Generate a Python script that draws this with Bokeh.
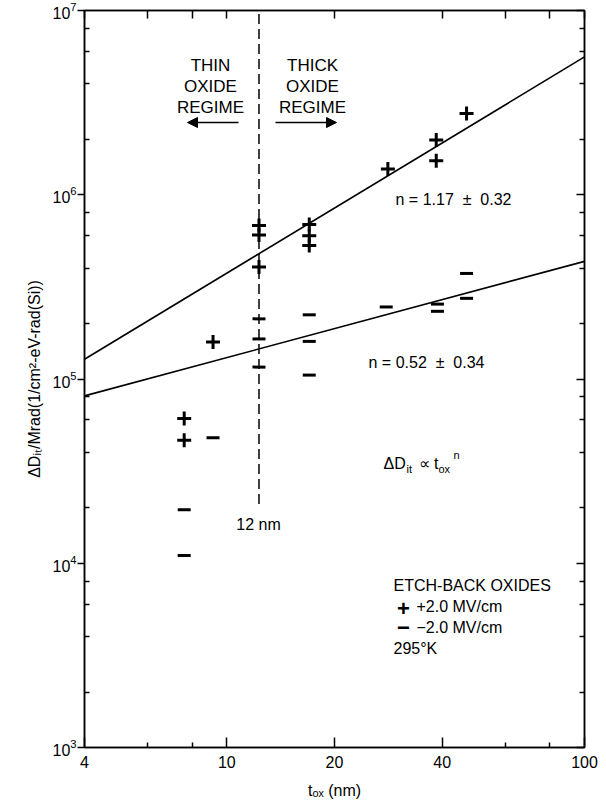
import numpy as np
from bokeh.plotting import figure
from bokeh.models import (FixedTicker, LogAxis, Label, Arrow, NormalHead,
                          PrintfTickFormatter, LogTickFormatter)
from bokeh.embed import file_html
from bokeh.resources import INLINE

# ---------------- data ----------------
plus_x = [7.6, 7.6, 9.15, 12.3, 12.3, 12.3, 17.0, 17.0, 17.0, 28.2, 38.5, 38.5, 46.8]
plus_y = [6.1e4, 4.65e4, 1.59e5, 6.8e5, 6.05e5, 4.05e5, 6.9e5, 6.0e5, 5.3e5,
          1.38e6, 1.98e6, 1.53e6, 2.76e6]
minus_x = [7.6, 7.6, 9.15, 12.3, 12.3, 12.3, 17.0, 17.0, 17.0, 27.9, 38.8, 38.8, 46.8, 46.8]
minus_y = [1.95e4, 1.1e4, 4.8e4, 2.12e5, 1.65e5, 1.16e5, 2.23e5, 1.6e5, 1.05e5,
           2.46e5, 2.55e5, 2.33e5, 3.74e5, 2.74e5]
fit_x = [4.0, 100.0]
fit_hi_y = [1.28e5, 5.6e6]     # n = 1.17
fit_lo_y = [8.1e4, 4.35e5]     # n = 0.52
boundary_x = [12.3, 12.3]
boundary_y = [2.1e4, 1.0e7]

x_major = [4, 10, 20, 40, 100]
x_minor = [6, 8, 60, 80]
y_major = [1e3, 1e4, 1e5, 1e6, 1e7]
y_minor = [m * 10.0 ** e for e in range(3, 7) for m in (2, 4, 6, 8)]

# ---------------- geometry helpers (page px -> data) for annotations ----------------
FL, FT, FW, FH = 84, 13, 500, 737
X0, X1, Y0, Y1 = 4.0, 100.0, 1e3, 1e7


def dx(px):
    return float(X0 * 10 ** ((px - FL) / FW * np.log10(X1 / X0)))


def dy(py):
    return float(Y1 / 10 ** ((py - FT) / FH * np.log10(Y1 / Y0)))


FONT = "Liberation Sans"
NB = "\u00a0"

p = figure(x_axis_type="log", y_axis_type="log", x_range=(X0, X1), y_range=(Y0, Y1),
           frame_width=FW, frame_height=FH, output_backend="svg", toolbar_location=None,
           min_border_left=84, min_border_right=14, min_border_top=10, min_border_bottom=44,
           background_fill_color="white", border_fill_color="white")
p.xgrid.visible = False
p.ygrid.visible = False
p.outline_line_color = "black"
p.outline_line_width = 1.5

# bottom axis
xa = p.xaxis[0]
xa.ticker = FixedTicker(ticks=x_major, minor_ticks=x_minor)
xa.formatter = PrintfTickFormatter(format="%d")
xa.major_tick_in = 10
xa.major_tick_out = 0
xa.minor_tick_in = 5
xa.minor_tick_out = 0
xa.major_label_standoff = 8
xa.axis_label = "tₒₓ (nm)"
xa.axis_label_standoff = 11

# left axis
ya = p.yaxis[0]
ya.ticker = FixedTicker(ticks=y_major, minor_ticks=y_minor)
ya.formatter = LogTickFormatter()
ya.major_tick_in = 0
ya.major_tick_out = 7
ya.minor_tick_in = 5
ya.minor_tick_out = 0
ya.major_label_standoff = 1
ya.axis_label = "ΔDᵢₜ/Mrad(1/cm²-eV-rad(Si))"
ya.axis_label_standoff = 6

for ax in (xa, ya):
    ax.axis_line_width = 1.5
    ax.major_tick_line_width = 1.5
    ax.minor_tick_line_width = 1.5
    ax.major_label_text_font = FONT
    ax.major_label_text_font_size = "16px"
    ax.major_label_text_color = "black"
    ax.axis_label_text_font = FONT
    ax.axis_label_text_font_size = "16px"
    ax.axis_label_text_font_style = "normal"
    ax.axis_label_text_color = "black"

# right and top axes (ticks only, labels not drawn)
ra = LogAxis(ticker=FixedTicker(ticks=y_major, minor_ticks=y_minor),
             formatter=PrintfTickFormatter(format=""),
             major_tick_in=8, major_tick_out=0, minor_tick_in=5, minor_tick_out=0,
             major_label_text_color=None, major_label_text_font_size="2px",
             major_label_standoff=0, axis_line_width=1.5,
             major_tick_line_width=1.5, minor_tick_line_width=1.5)
p.add_layout(ra, "right")
ta = LogAxis(ticker=FixedTicker(ticks=x_major, minor_ticks=x_minor),
             formatter=PrintfTickFormatter(format=""),
             major_tick_in=8, major_tick_out=0, minor_tick_in=8, minor_tick_out=0,
             major_label_text_color=None, major_label_text_font_size="2px",
             major_label_standoff=0, axis_line_width=1.5,
             major_tick_line_width=1.5, minor_tick_line_width=1.5)
p.add_layout(ta, "above")

# fit lines
p.line(fit_x, fit_hi_y, line_color="black", line_width=1.6)
p.line(fit_x, fit_lo_y, line_color="black", line_width=1.6)

# 12 nm boundary
p.line(boundary_x, boundary_y, line_color="black", line_width=1.5, line_dash="10 5")

# data markers
p.scatter(plus_x, plus_y, marker="cross", size=14, line_width=3, line_color="black")
p.scatter(minus_x, minus_y, marker="dash", size=13, line_width=3, line_color="black")


def lab(px, py, text, size="16px", align="left", style="normal"):
    p.add_layout(Label(x=dx(px), y=dy(py), text=text, text_font=FONT, text_font_size=size,
                       text_align=align, text_baseline="alphabetic", text_color="black",
                       text_font_style=style))


# regime texts
for txt, base in (("THIN", 68), ("OXIDE", 89), ("REGIME", 110)):
    lab(210, base, txt, align="center", size="17px")
for txt, base in (("THICK", 68), ("OXIDE", 89), ("REGIME", 110)):
    lab(312, base, txt, align="center", size="17px")

p.add_layout(Arrow(x_start=dx(238), y_start=dy(125), x_end=dx(187), y_end=dy(125),
                   line_width=1.5, line_color="black",
                   end=NormalHead(size=10, fill_color="black", line_color="black")))
p.add_layout(Arrow(x_start=dx(275), y_start=dy(125), x_end=dx(336), y_end=dy(125),
                   line_width=1.5, line_color="black",
                   end=NormalHead(size=10, fill_color="black", line_color="black")))

lab(258, 527, "12 nm", align="center")
lab(395, 202, "n = 1.17 " + NB + "±" + NB + " 0.32")
lab(368, 365, "n = 0.52 " + NB + "±" + NB + " 0.34")

# ΔD_it ∝ t_ox^n
lab(383, 466, "ΔD")
lab(406, 471, "it", size="11px")
lab(418, 466, "∝ t")
lab(438, 471, "ox", size="11px")
lab(453, 457, "n", size="11px")

# legend block
lab(393, 588, "ETCH-BACK OXIDES")
lab(403, 611, "+", size="22px", align="center", style="bold")
lab(416, 609, "+2.0 MV/cm")
lab(403, 630, "−", size="22px", align="center", style="bold")
lab(416, 630, "−2.0 MV/cm")
lab(393, 651, "295°K")

open("out.html", "w").write(file_html(p, INLINE))
